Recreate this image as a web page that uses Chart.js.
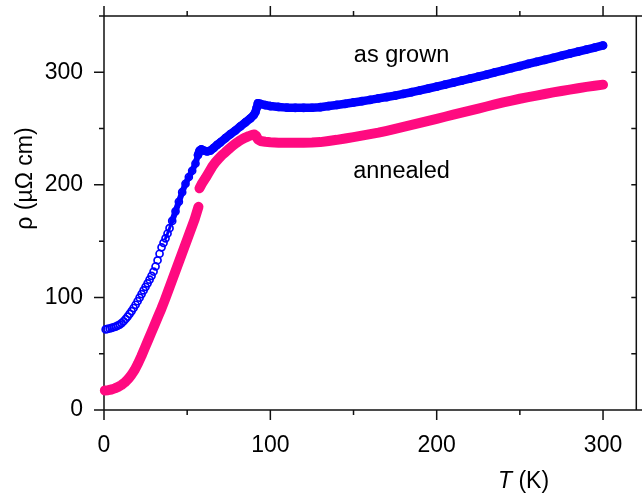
<!DOCTYPE html>
<html><head><meta charset="utf-8">
<script src="https://cdn.jsdelivr.net/npm/chart.js@4"></script>
<style>html,body{margin:0;padding:0;background:#fff}canvas{display:block}</style>
</head><body>
<canvas id="c" width="642" height="496"></canvas>
<script>
// ---- data ----
const asGrownT = [1.0,2.2,3.4,4.6,5.8,7.0,8.2,9.4,10.6,11.8,13.0,14.2,15.4,16.6,17.8,19.0,20.2,21.4,22.6,23.8,25.0,26.2,27.4,28.6,29.8,31.0,32.2,33.4,34.6,35.8,37.0,38.2,39.4,
  41,43,45,47,49,51,53,55,56.5,57.5,58.5,60,62,64,66,68,70,73,76,79,82,85,88,90,91,91.8,92.5,94,97,100,105,110,115,120,125,130,135,140,145,150,155,160,165,170,175,180,185,190,195,200,205,210,215,220,225,230,235,240,245,250,255,260,265,270,275,280,285,290,295,300];
const asGrownRho = [71.6,72.0,72.4,72.9,73.5,74.1,74.9,75.9,77.2,78.8,80.8,83.0,85.4,87.9,90.6,93.5,96.6,99.8,103.0,106.2,109.4,112.5,115.8,119.2,123.0,127.5,133.0,138.8,144.5,148.5,152.5,156.8,161.5,
  168,176.5,185,193.5,201,207,212.5,219,226.5,230.5,231.5,230.5,229.8,230.5,232.8,235.5,237.8,241.5,245,248.3,252,255.5,259,262,264.5,268.5,272.5,272,270.8,270,269.2,268.6,268.4,268.4,268.5,269,270,271,272,273.2,274.3,275.5,276.8,278,279.3,280.8,282.3,284,285.6,287.3,289,290.8,292.6,294.4,296.2,298,300,301.8,303.6,305.5,307.4,309.2,311,312.9,314.7,316.5,318.4,320.2,322,323.8];
const annealedT = [0.5,2.5,4.5,6.5,8.5,10.5,12.5,14.5,16.5,18.5,20.5,22.5,24.5,26.5,28.5,30.5,32.5,34.5,36.5,38.5,40.5,42.5,44.5,46.5,48.5,50.5,52.5,54.5,56.8,57.1,
  57.4,59,61,63,65,67,69,71,73,75,77,79,81,83,85,87,89,90.5,91.5,92.5,94,97,100,105,110,115,120,125,130,135,140,145,150,155,160,165,170,175,180,185,190,195,200,205,210,215,220,225,230,235,240,245,250,255,260,265,270,275,280,285,290,295,300];
const annealedRho = [17.4,17.6,18.2,19.2,20.5,22.2,24.5,27.5,31.2,35.8,41.5,48,55,62,69,76,83,90,97.5,105.5,113.5,121.5,129.5,137.5,145.5,153.5,161.5,169.5,180.5,null,
  197,201.5,206,211,216,220,223.5,226.5,229,231.8,234.3,236.7,238.7,240.5,242,243.3,244.3,244.7,243.5,240.5,239,238.3,237.9,237.5,237.3,237.3,237.4,237.6,238,239,240,241.2,242.4,243.7,245,246.4,248,249.7,251.4,253.2,255,256.8,258.6,260.5,262.4,264.2,266,267.8,269.6,271.4,273.2,274.9,276.5,277.9,279.3,280.7,282.1,283.4,284.6,285.8,287,288,289];
const xTickLabels = [0,100,200,300];
const xMinorTicks = [50,150,250];
const yTickLabels = [0,100,200,300];
const yMinorTicks = [50,150,250,350];
const seriesNames = ['as grown','annealed'];
const seriesLabelAt = [[150.2,308.7],[149.8,206.5]];

// ---- styles ----
const BLUE = '#0000ff', PINK = '#ff0a80', AXIS = '#111';
const FONT = '"Liberation Sans", Arial, Helvetica, sans-serif';

const toXY = (xs, ys) => xs.map((x,i)=>({x:x, y:ys[i]}));
const blueLine = toXY(asGrownT, asGrownRho).filter(p => p.x >= 37);

const framePlugin = {
  id:'frame',
  beforeDatasetsDraw(chart){
    const {ctx, chartArea:a, scales:{x,y}} = chart;
    ctx.save();
    ctx.strokeStyle = AXIS; ctx.lineWidth = 1.5; ctx.lineCap = 'butt';
    ctx.beginPath();
    ctx.moveTo(a.left, a.top); ctx.lineTo(a.left, a.bottom);
    ctx.moveTo(a.left, a.bottom); ctx.lineTo(chart.width, a.bottom);
    ctx.moveTo(a.left, a.top); ctx.lineTo(chart.width, a.top);
    ctx.moveTo(a.right, a.top); ctx.lineTo(a.right, a.bottom);
    const tick = (v, len, isX) => {
      if (isX) {
        const px = x.getPixelForValue(v);
        ctx.moveTo(px, a.bottom); ctx.lineTo(px, a.bottom + len);
        ctx.moveTo(px, a.top); ctx.lineTo(px, a.top - len);
      } else {
        const py = y.getPixelForValue(v);
        ctx.moveTo(a.left, py); ctx.lineTo(a.left - len, py);
        ctx.moveTo(a.right, py); ctx.lineTo(a.right - 5, py);
      }
    };
    xTickLabels.forEach(v => tick(v, 10, true));
    xMinorTicks.forEach(v => tick(v, 5, true));
    yTickLabels.forEach(v => tick(v, 10, false));
    yMinorTicks.forEach(v => tick(v, 5, false));
    ctx.stroke();
    ctx.restore();
  },
  afterDraw(chart){
    const {ctx, scales:{x,y}} = chart;
    ctx.save();
    ctx.fillStyle = '#000';
    ctx.textBaseline = 'alphabetic';
    ctx.textAlign = 'left';
    ctx.font = '23.5px ' + FONT;
    seriesNames.forEach((t,i)=>{
      ctx.fillText(t, x.getPixelForValue(seriesLabelAt[i][0]), y.getPixelForValue(seriesLabelAt[i][1]));
    });
    // x title
    ctx.font = 'italic 23px ' + FONT;
    const tx = 498, ty = 488;
    ctx.fillText('T', tx, ty);
    const w = ctx.measureText('T').width;
    ctx.font = '23px ' + FONT;
    ctx.fillText(' (K)', tx + w, ty);
    // y title
    ctx.translate(31.5, 178.5);
    ctx.rotate(-Math.PI/2);
    ctx.textAlign = 'center';
    ctx.fillText('\u03c1 (\u00b5\u03a9 cm)', 0, 0);
    ctx.restore();
  }
};

const tickFont = {family: FONT, size: 23};
new Chart(document.getElementById('c'), {
  type: 'scatter',
  data: {
    datasets: [
      {label:'as grown band', data: blueLine, showLine:true, borderColor:BLUE, borderWidth:8.5,
       segment:{borderWidth: c => (c.p0.parsed.x < 41 ? 3 : (c.p0.parsed.x < 56 ? 6 : 8.5))},
       pointRadius:0, borderCapStyle:'round', borderJoinStyle:'round', clip:false, order:3},
      {label:'as grown', data: toXY(asGrownT, asGrownRho), showLine:false, pointStyle:'circle',
       pointRadius:3.5, pointBorderWidth:1.7, borderColor:BLUE, pointBorderColor:BLUE,
       backgroundColor:'rgba(0,0,0,0)', pointBackgroundColor:'rgba(0,0,0,0)', clip:false, order:2},
      {label:'annealed', data: toXY(annealedT, annealedRho), showLine:true, spanGaps:false,
       borderColor:PINK, borderWidth:10, pointRadius:0, borderCapStyle:'round', borderJoinStyle:'round',
       clip:false, order:1}
    ]
  },
  options: {
    responsive:false, animation:false, devicePixelRatio:1,
    layout:{padding:{top:16, right:5, left:0, bottom:0}},
    plugins:{legend:{display:false}, tooltip:{enabled:false}},
    scales:{
      x:{type:'linear', position:'bottom', min:0, max:320,
         afterFit(s){ s.height = 86; s.paddingLeft = 0; s.paddingRight = 0; },
         afterBuildTicks(s){ s.ticks = xTickLabels.map(v=>({value:v})); },
         grid:{display:false, drawTicks:false}, border:{display:false},
         ticks:{padding:22, font:tickFont, color:'#000', maxRotation:0}},
      y:{type:'linear', position:'left', min:0, max:350,
         afterFit(s){ s.width = 104; s.paddingTop = 0; s.paddingBottom = 0; },
         afterBuildTicks(s){ s.ticks = yTickLabels.map(v=>({value:v})); },
         grid:{display:false, drawTicks:false}, border:{display:false},
         ticks:{padding:21, font:tickFont, color:'#000'}}
    }
  },
  plugins:[framePlugin]
});
</script>
</body></html>
